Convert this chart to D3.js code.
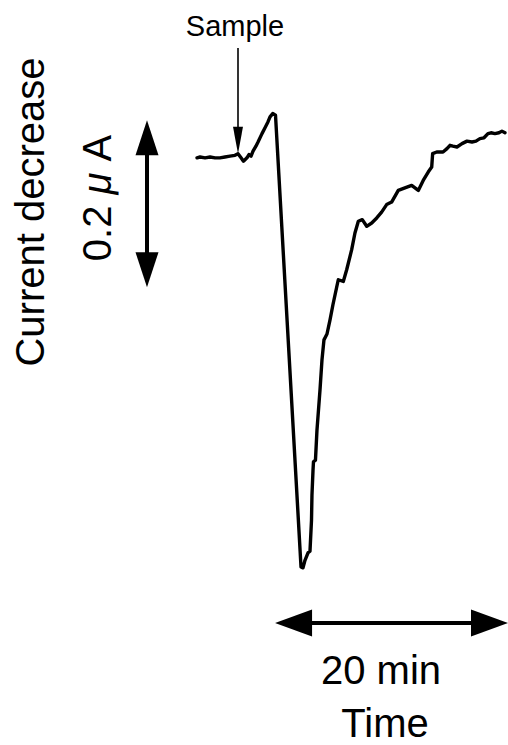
<!DOCTYPE html>
<html>
<head>
<meta charset="utf-8">
<script src="https://cdn.jsdelivr.net/npm/d3@7"></script>
<style>
  body { margin: 0; background: #fff; }
  text { font-family: "Liberation Sans", Arial, Helvetica, sans-serif; fill: #000; }
</style>
</head>
<body>
<div id="chart"></div>
<script>
// time after start of record (min) and current change (uA, up = less decrease)
const times = [0.00, 0.26, 0.69, 1.12, 1.55, 1.97, 2.40, 2.83, 3.26, 3.52,
    3.78, 3.99, 4.29, 4.46, 4.64, 4.81, 5.06, 5.24, 5.58, 5.84, 6.09, 6.27,
    6.50, 6.74, 8.93, 9.10, 9.27, 9.53, 9.70, 9.83, 9.87, 9.96,
    10.00, 10.17, 10.30, 10.56, 10.73, 10.90, 11.16, 11.42, 11.67, 11.99,
    12.13, 12.56, 12.85, 13.28, 13.56, 13.85, 14.19, 14.57, 15.00, 15.43,
    15.85, 16.28, 16.71, 17.28, 17.85, 18.43, 19.00, 19.42, 19.85, 20.15,
    20.23, 20.58, 21.12, 21.46, 21.72, 21.97, 22.32, 22.75, 23.18, 23.61,
    23.95, 24.29, 24.64, 24.98, 25.24, 25.58, 25.92, 26.18, 26.44];
const current = [-0.001, 0.000, -0.001, 0.000, -0.001, -0.001, 0.000, 0.001, 0.002, 0.004,
    -0.001, -0.005, -0.001, 0.003, 0.001, 0.007, 0.013, 0.018, 0.028, 0.035, 0.042, 0.048,
    0.052, 0.050, -0.491, -0.492, -0.483, -0.474, -0.472, -0.435, -0.405, -0.375,
    -0.365, -0.363, -0.327, -0.279, -0.243, -0.219, -0.212, -0.195, -0.177, -0.156,
    -0.147, -0.149, -0.135, -0.111, -0.091, -0.077, -0.075, -0.083, -0.079, -0.073,
    -0.066, -0.057, -0.054, -0.040, -0.037, -0.034, -0.040, -0.028, -0.018, -0.012,
    0.004, 0.006, 0.006, 0.010, 0.014, 0.013, 0.012, 0.016, 0.019, 0.018,
    0.019, 0.022, 0.023, 0.028, 0.029, 0.028, 0.029, 0.031, 0.029];

const sampleTime = 3.52;
const timeBar = [6.7, 26.7];        // 20 min
const currentBar = [-0.156, 0.044]; // 0.2 uA
const timeBarLabel = "20 min";
const currentBarLabel = ["0.2 ", "\u03bc", " A"];

const width = 508, height = 745;

const svg = d3.select("#chart")
    .append("svg")
    .attr("width", width)
    .attr("height", height);

const x = d3.scaleLinear()
    .domain([0, 26.7])
    .range([197, 508]);

const y = d3.scaleLinear()
    .domain([-0.5, 0.1])
    .range([574.5, 73.5]);

const data = times.map((t, i) => ({ t: t, v: current[i] }));

// trace
svg.append("path")
    .datum(data)
    .attr("fill", "none")
    .attr("stroke", "#000")
    .attr("stroke-width", 3.4)
    .attr("stroke-linejoin", "round")
    .attr("stroke-linecap", "round")
    .attr("d", d3.line().x(d => x(d.t)).y(d => y(d.v)));

// sample arrow
const sx = x(sampleTime);
const sy = y(current[times.indexOf(sampleTime)]);
svg.append("line")
    .attr("x1", sx).attr("x2", sx)
    .attr("y1", 48).attr("y2", sy - 20)
    .attr("stroke", "#000")
    .attr("stroke-width", 1.6);
svg.append("path")
    .attr("d", `M${sx - 5},${sy - 27}L${sx + 5},${sy - 27}L${sx},${sy}Z`)
    .attr("fill", "#000");
svg.append("text")
    .attr("x", sx - 3)
    .attr("y", 36)
    .attr("text-anchor", "middle")
    .style("font-size", "29px")
    .text("Sample");

// vertical scale bar
const vx = 147;
const vTop = y(currentBar[1]), vBot = y(currentBar[0]);
svg.append("line")
    .attr("x1", vx).attr("x2", vx)
    .attr("y1", vTop + 20).attr("y2", vBot - 20)
    .attr("stroke", "#000")
    .attr("stroke-width", 4);
svg.append("path")
    .attr("d", `M${vx},${vTop}L${vx + 11.5},${vTop + 35}L${vx - 11.5},${vTop + 35}Z`)
    .attr("fill", "#000");
svg.append("path")
    .attr("d", `M${vx},${vBot}L${vx + 11.5},${vBot - 35}L${vx - 11.5},${vBot - 35}Z`)
    .attr("fill", "#000");

// horizontal scale bar
const hy = 623;
const hL = x(timeBar[0]), hR = x(timeBar[1]);
svg.append("line")
    .attr("x1", hL + 20).attr("x2", hR - 20)
    .attr("y1", hy).attr("y2", hy)
    .attr("stroke", "#000")
    .attr("stroke-width", 4);
svg.append("path")
    .attr("d", `M${hL},${hy}L${hL + 37},${hy - 13.5}L${hL + 37},${hy + 13.5}Z`)
    .attr("fill", "#000");
svg.append("path")
    .attr("d", `M${hR},${hy}L${hR - 37},${hy - 13.5}L${hR - 37},${hy + 13.5}Z`)
    .attr("fill", "#000");

svg.append("text")
    .attr("x", 381)
    .attr("y", 684)
    .attr("text-anchor", "middle")
    .style("font-size", "40px")
    .text(timeBarLabel);

svg.append("text")
    .attr("x", 385)
    .attr("y", 737)
    .attr("text-anchor", "middle")
    .style("font-size", "40px")
    .text("Time");

// y labels
svg.append("text")
    .attr("transform", "translate(44,212)rotate(-90)")
    .attr("text-anchor", "middle")
    .style("font-size", "40px")
    .text("Current decrease");

const uLabel = svg.append("text")
    .attr("transform", "translate(111,198)rotate(-90)")
    .attr("text-anchor", "middle")
    .style("font-size", "40px");
uLabel.append("tspan").text(currentBarLabel[0]);
uLabel.append("tspan").style("font-style", "italic").text(currentBarLabel[1]);
uLabel.append("tspan").text(currentBarLabel[2]);
</script>
</body>
</html>
